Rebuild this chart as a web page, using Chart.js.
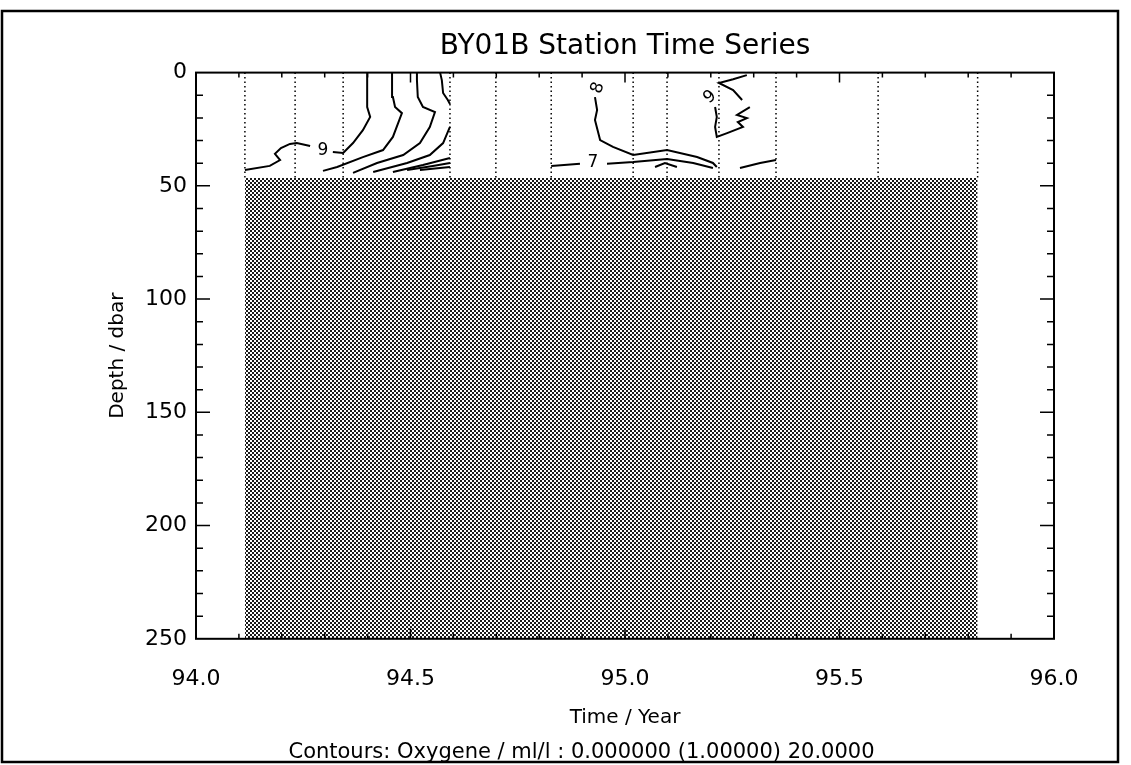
<!DOCTYPE html>
<html>
<head>
<meta charset="utf-8">
<title>BY01B Station Time Series</title>
<script src="https://cdn.jsdelivr.net/npm/chart.js@4.4.1/dist/chart.umd.min.js"></script>
<style>
    html, body { margin: 0; padding: 0; background: #fff; }
    #caixa { width: 1131px; height: 765px; }
</style>
</head>
<body>
<div id="caixa"><canvas id="grafico-contorno" width="1131" height="765"></canvas></div>
<script>
// EIXOS
const rotulos_x = [94.0, 94.5, 95.0, 95.5, 96.0];
const rotulos_y = [0, 50, 100, 150, 200, 250];
const marcas_x = [94.1, 94.2, 94.3, 94.4, 94.5, 94.6, 94.7, 94.8, 94.9, 95.0,
                  95.1, 95.2, 95.3, 95.4, 95.5, 95.6, 95.7, 95.8, 95.9];
const marcas_y = [10, 20, 30, 40, 50, 60, 70, 80, 90, 100, 110, 120, 130, 140, 150,
                  160, 170, 180, 190, 200, 210, 220, 230, 240];

// ESTACOES (ano) E LIMITES DA AREA SEM DADOS
const estacoes = [94.114, 94.231, 94.343, 94.592, 94.699, 94.828, 95.019, 95.098,
                  95.219, 95.352, 95.590, 95.822];
const profundidade_limite = 46.5;
const faixa_sombra = [94.114, 95.822];

// CONTORNOS (ano, dbar)
const contorno_9a_1 = [[94.114, 43.0], [94.172, 41.2], [94.196, 38.6], [94.184, 35.9], [94.198, 33.3], [94.219, 31.5], [94.235, 31.1], [94.266, 32.4]];
const contorno_9a_2 = [[94.319, 35.1], [94.343, 35.5], [94.366, 31.1], [94.389, 25.4], [94.406, 19.6], [94.399, 15.2], [94.399, 6.4], [94.399, 0]];
const contorno_b = [[94.296, 43.4], [94.329, 41.7], [94.389, 37.3], [94.436, 34.2], [94.459, 28.4], [94.480, 17.9], [94.464, 15.2], [94.459, 10.8], [94.457, 3.3], [94.457, 0]];
const contorno_c = [[94.366, 44.3], [94.422, 39.9], [94.483, 36.4], [94.522, 31.1], [94.545, 24.0], [94.557, 17.4], [94.529, 15.2], [94.517, 10.8], [94.515, 3.3], [94.515, 0]];
const contorno_d1 = [[94.413, 43.9], [94.492, 39.9], [94.545, 36.4], [94.576, 31.1], [94.587, 26.2], [94.592, 24.0]];
const contorno_d2 = [[94.569, 0], [94.573, 3.3], [94.576, 9.0], [94.587, 12.1], [94.592, 13.9]];
const contorno_e = [[94.459, 43.9], [94.529, 40.8], [94.592, 37.7]];
const contorno_f = [[94.492, 43.0], [94.552, 41.2], [94.592, 39.9]];
const contorno_g = [[94.522, 43.0], [94.592, 41.7]];
const contorno_8 = [[94.930, 10.8], [94.935, 16.5], [94.930, 20.9], [94.942, 29.8], [94.972, 32.8], [95.019, 36.4], [95.098, 34.2], [95.168, 37.3], [95.205, 39.9], [95.214, 41.7]];
const contorno_7a = [[94.828, 41.2], [94.895, 40.3]];
const contorno_7b = [[94.958, 40.3], [95.019, 39.5], [95.098, 38.1], [95.159, 39.9], [95.205, 42.1]];
const contorno_arco = [[95.070, 41.7], [95.093, 39.9], [95.121, 41.7]];
const contorno_dir = [[95.268, 42.1], [95.315, 39.9], [95.352, 38.6]];
const contorno_9b_topo = [[95.284, 1.1], [95.252, 2.9], [95.219, 4.6], [95.252, 7.7], [95.273, 12.1]];
const contorno_9b_laco = [[95.210, 15.2], [95.214, 19.6], [95.210, 24.0], [95.214, 28.4], [95.238, 26.7], [95.275, 24.0], [95.263, 21.8], [95.284, 20.1], [95.261, 18.7], [95.291, 15.2]];

// ROTULOS DOS CONTORNOS
const rotulo_texto = ['9', '7', '8', '9'];
const rotulo_ano = [94.296, 94.925, 94.937, 95.198];
const rotulo_prof = [34.6, 39.9, 6.8, 10.8];
const rotulo_angulo = [0, 0, -70, -40];

const FONTE = 'DejaVu Sans, sans-serif';

function criarPadrao() {
    let c = document.createElement('canvas');
    c.width = 4;
    c.height = 4;
    let g = c.getContext('2d');
    g.fillStyle = '#fff';
    g.fillRect(0, 0, 4, 4);
    g.fillStyle = '#1a1a1a';
    g.fillRect(0, 0, 2, 2);
    g.fillRect(2, 2, 2, 2);
    return g.createPattern(c, 'repeat');
}

function linha(pares) {
    return {
        data: pares.map(p => ({ x: p[0], y: p[1] })),
        borderColor: '#000',
        borderWidth: 2,
        pointRadius: 0,
        fill: false
    };
}

const pluginMoldura = {
    id: 'moldura',
    afterDatasetsDraw(chart) {
        const { ctx, chartArea: a, scales: { x, y } } = chart;
        ctx.save();
        ctx.strokeStyle = '#000';
        ctx.lineWidth = 2;
        ctx.strokeRect(a.left, a.top, a.right - a.left, a.bottom - a.top);

        // MARCAS INTERNAS
        ctx.lineWidth = 1.5;
        ctx.beginPath();
        marcas_x.forEach(v => {
            let px = x.getPixelForValue(v);
            let len = rotulos_x.some(r => Math.abs(r - v) < 1e-6) ? 10 : 5;
            ctx.moveTo(px, a.top); ctx.lineTo(px, a.top + len);
            ctx.moveTo(px, a.bottom); ctx.lineTo(px, a.bottom - len);
        });
        marcas_y.forEach(v => {
            let py = y.getPixelForValue(v);
            let len = rotulos_y.includes(v) ? 14 : 7;
            ctx.moveTo(a.left, py); ctx.lineTo(a.left + len, py);
            ctx.moveTo(a.right, py); ctx.lineTo(a.right - len, py);
        });
        ctx.stroke();

        // ROTULOS DOS CONTORNOS
        ctx.fillStyle = '#000';
        ctx.font = '17px ' + FONTE;
        ctx.textAlign = 'center';
        ctx.textBaseline = 'middle';
        rotulo_texto.forEach((t, i) => {
            ctx.save();
            ctx.translate(x.getPixelForValue(rotulo_ano[i]), y.getPixelForValue(rotulo_prof[i]));
            ctx.rotate(rotulo_angulo[i] * Math.PI / 180);
            ctx.fillText(t, 0, 0);
            ctx.restore();
        });
        ctx.restore();
    },
    afterDraw(chart) {
        const ctx = chart.ctx;
        ctx.save();
        ctx.strokeStyle = '#000';
        ctx.lineWidth = 2.5;
        ctx.strokeRect(2, 11, 1116, 751);
        ctx.restore();
    }
};

function gerarGraficoContorno() {
    let canvas = document.getElementById('grafico-contorno');
    let ctx = canvas.getContext('2d');

    let datasets = [];

    // AREA SEM DADOS (SOMBREADA)
    datasets.push({
        data: [{ x: faixa_sombra[0], y: profundidade_limite }, { x: faixa_sombra[1], y: profundidade_limite }],
        borderWidth: 0,
        borderColor: 'rgba(0,0,0,0)',
        backgroundColor: criarPadrao(),
        pointRadius: 0,
        fill: { value: 250 }
    });

    // LINHAS PONTILHADAS DAS ESTACOES
    estacoes.forEach(t => {
        datasets.push({
            data: [{ x: t, y: 0 }, { x: t, y: profundidade_limite }],
            borderColor: '#000',
            borderWidth: 1.5,
            borderDash: [1.5, 3],
            pointRadius: 0,
            fill: false
        });
    });

    [contorno_9a_1, contorno_9a_2, contorno_b, contorno_c, contorno_d1, contorno_d2,
     contorno_e, contorno_f, contorno_g, contorno_8, contorno_7a, contorno_7b,
     contorno_arco, contorno_dir, contorno_9b_topo, contorno_9b_laco].forEach(c => datasets.push(linha(c)));

    let grafico = new Chart(ctx, {
        type: 'line',
        data: { datasets: datasets },
        plugins: [pluginMoldura],
        options: {
            responsive: false,
            animation: false,
            layout: { padding: { left: 32 } },
            elements: { line: { tension: 0 }, point: { radius: 0 } },
            plugins: {
                legend: { display: false },
                tooltip: { enabled: false },
                title: {
                    display: true,
                    text: 'BY01B Station Time Series',
                    fullSize: false,
                    color: '#000',
                    font: { family: FONTE, size: 28, weight: 'normal' },
                    padding: { top: 30, bottom: 9 }
                },
                subtitle: {
                    display: true,
                    position: 'bottom',
                    text: 'Contours: Oxygene / ml/l : 0.000000 (1.00000) 20.0000',
                    color: '#000',
                    font: { family: FONTE, size: 21, weight: 'normal' },
                    padding: { top: 6, bottom: 0 }
                }
            },
            scales: {
                x: {
                    type: 'linear',
                    min: 94,
                    max: 96,
                    afterBuildTicks: s => { s.ticks = rotulos_x.map(v => ({ value: v })); },
                    afterFit: s => { s.height = 95; },
                    ticks: {
                        callback: v => v.toFixed(1),
                        padding: 27,
                        autoSkip: false,
                        maxRotation: 0,
                        color: '#000',
                        font: { family: FONTE, size: 22 }
                    },
                    grid: { display: false, drawTicks: false },
                    border: { display: false },
                    title: {
                        display: true,
                        text: 'Time / Year',
                        color: '#000',
                        font: { family: FONTE, size: 20 },
                        padding: { top: 10, bottom: 4 }
                    }
                },
                y: {
                    type: 'linear',
                    min: 0,
                    max: 250,
                    reverse: true,
                    afterBuildTicks: s => { s.ticks = rotulos_y.map(v => ({ value: v })); },
                    afterFit: s => { s.width = 164; },
                    ticks: {
                        padding: 9,
                        autoSkip: false,
                        color: '#000',
                        font: { family: FONTE, size: 22 }
                    },
                    grid: { display: false, drawTicks: false },
                    border: { display: false },
                    title: {
                        display: true,
                        text: 'Depth / dbar',
                        color: '#000',
                        font: { family: FONTE, size: 20 },
                        padding: { top: 74, bottom: 0 }
                    }
                },
                y2: {
                    type: 'linear',
                    position: 'right',
                    display: true,
                    afterFit: s => { s.width = 77; },
                    ticks: { display: false },
                    grid: { display: false, drawTicks: false },
                    border: { display: false }
                }
            }
        }
    });
}

gerarGraficoContorno();
</script>
</body>
</html>
